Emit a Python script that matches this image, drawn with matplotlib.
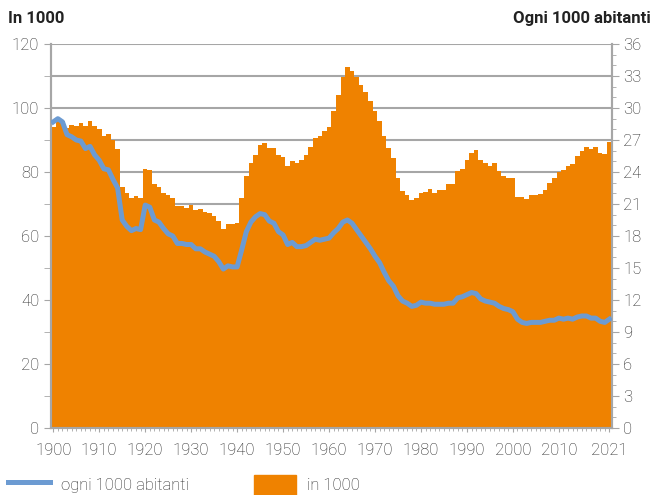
import numpy as np
import matplotlib
matplotlib.use("Agg")
import matplotlib.pyplot as plt
import matplotlib.patches as patches
from matplotlib.lines import Line2D
from matplotlib.ticker import MultipleLocator

plt.rcParams['font.family'] = ['Roboto', 'DejaVu Sans']

# data
years = list(range(1900, 2022))

in_1000 = [94.2, 96.2, 96.0, 93.8, 94.7, 94.4, 95.4, 94.5, 96.0, 94.3,
           93.5, 91.3, 91.9, 90.1, 87.3, 75.4, 73.4, 71.9, 72.6, 71.9,
           81.0, 80.6, 76.2, 75.4, 73.4, 72.8, 71.9, 69.5, 69.5, 68.8,
           69.8, 68.2, 68.4, 67.5, 67.1, 66.3, 64.7, 62.2, 63.8, 63.8,
           64.0, 71.9, 78.8, 82.8, 85.3, 88.3, 89.0, 87.5, 87.5, 85.3,
           84.7, 82.0, 83.4, 82.8, 83.8, 85.3, 87.8, 90.6, 91.3, 92.9,
           94.0, 99.0, 104.0, 109.8, 112.9, 111.6, 109.8, 107.2, 105.0, 102.2,
           99.0, 95.9, 91.3, 87.5, 84.4, 78.1, 74.0, 72.8, 71.3, 71.9,
           73.4, 73.8, 74.7, 73.4, 74.4, 74.4, 76.3, 76.3, 80.3, 80.9,
           83.8, 85.9, 86.9, 83.8, 82.8, 81.9, 82.8, 80.3, 78.8, 78.1,
           78.1, 72.2, 72.2, 71.6, 72.8, 72.8, 73.1, 74.4, 76.6, 78.1,
           80.0, 80.6, 81.9, 82.5, 85.0, 86.6, 87.8, 87.2, 87.8, 85.9,
           85.6, 89.4]

per_1000 = [28.7, 29.0, 28.7, 27.5, 27.3, 27.0, 26.9, 26.2, 26.4, 25.6,
            25.1, 24.3, 24.2, 23.3, 22.5, 19.5, 18.9, 18.5, 18.7, 18.6,
            20.9, 20.7, 19.5, 19.3, 18.7, 18.2, 18.0, 17.3, 17.3, 17.2,
            17.2, 16.8, 16.8, 16.5, 16.3, 16.1, 15.6, 14.9, 15.2, 15.1,
            15.1, 16.7, 18.4, 19.3, 19.8, 20.1, 20.0, 19.4, 19.2, 18.4,
            18.1, 17.2, 17.4, 17.0, 17.0, 17.1, 17.4, 17.7, 17.6, 17.7,
            17.8, 18.3, 18.7, 19.3, 19.5, 19.2, 18.6, 18.0, 17.4, 16.8,
            16.1, 15.5, 14.6, 13.8, 13.3, 12.4, 11.9, 11.7, 11.4, 11.5,
            11.8, 11.7, 11.7, 11.6, 11.6, 11.6, 11.7, 11.7, 12.2, 12.3,
            12.5, 12.7, 12.6, 12.1, 11.9, 11.8, 11.7, 11.4, 11.2, 11.1,
            10.9, 10.2, 9.9, 9.8, 9.9, 9.9, 9.9, 10.0, 10.1, 10.1,
            10.3, 10.2, 10.3, 10.2, 10.4, 10.5, 10.5, 10.3, 10.3, 10.0,
            9.9, 10.2]

tick_years = [1900, 1910, 1920, 1930, 1940, 1950, 1960, 1970, 1980, 1990, 2000, 2010, 2021]

orange = '#EF8200'
blue = '#6C9BD2'
grey = '#A6A6A6'
txt = '#262626'

fig = plt.figure(figsize=(6.51, 4.95), dpi=100)
ax = fig.add_axes([0.0783, 0.1354, 0.8613, 0.7757])

ax.bar(years, in_1000, width=1.0, color=orange, linewidth=0, zorder=2)
ax.set_xlim(1899.5, 2021.5)
ax.set_ylim(0, 120)
ax.yaxis.set_major_locator(MultipleLocator(20))
ax.yaxis.set_minor_locator(MultipleLocator(10))
ax.grid(axis='y', which='both', color=grey, linewidth=1.5, zorder=0)
ax.set_axisbelow(True)
ax.set_xticks(tick_years)
ax.set_xticklabels([str(y) for y in tick_years])
ax.xaxis.set_minor_locator(MultipleLocator(1))
ax.tick_params(axis='x', which='major', length=3, color=grey, labelsize=12, labelcolor=txt, pad=8)
ax.tick_params(axis='x', which='minor', length=2, color=grey)
ax.tick_params(axis='y', which='both', length=5, color=grey, labelsize=12, labelcolor=txt)

ax2 = ax.twinx()
ax2.plot(years, per_1000, color=blue, linewidth=3.6, solid_joinstyle='round', zorder=3)
ax2.set_ylim(0, 36)
ax2.yaxis.set_major_locator(MultipleLocator(3))
ax2.yaxis.set_minor_locator(MultipleLocator(1))
ax2.tick_params(axis='y', which='major', length=5, color=grey, labelsize=12, labelcolor=txt)
ax2.tick_params(axis='y', which='minor', length=3, color=grey)

for a in (ax, ax2):
    for s in a.spines.values():
        s.set_color(grey)
        s.set_linewidth(1.5)
    a.spines['top'].set_visible(False)
    for lab in a.get_xticklabels() + a.get_yticklabels():
        lab.set_fontweight('light')

fig.text(0.012, 0.963, 'In 1000', fontsize=12, fontweight='bold', color='#222222', va='center', ha='left')
fig.text(0.999, 0.963, 'Ogni 1000 abitanti', fontsize=12, fontweight='bold', color='#222222', va='center', ha='right')

handles = [Line2D([], [], color=blue, linewidth=3.6),
           patches.Patch(color=orange)]
fig.legend(handles, ['ogni 1000 abitanti', 'in 1000'], loc='lower left',
           bbox_to_anchor=(-0.011, -0.03), ncol=2, frameon=False,
           prop={'size': 12, 'weight': 'light'},
           handlelength=2.5, handleheight=1.5, columnspacing=3.9,
           handletextpad=0.7, labelcolor=txt)

fig.savefig('out.png', dpi=100)
